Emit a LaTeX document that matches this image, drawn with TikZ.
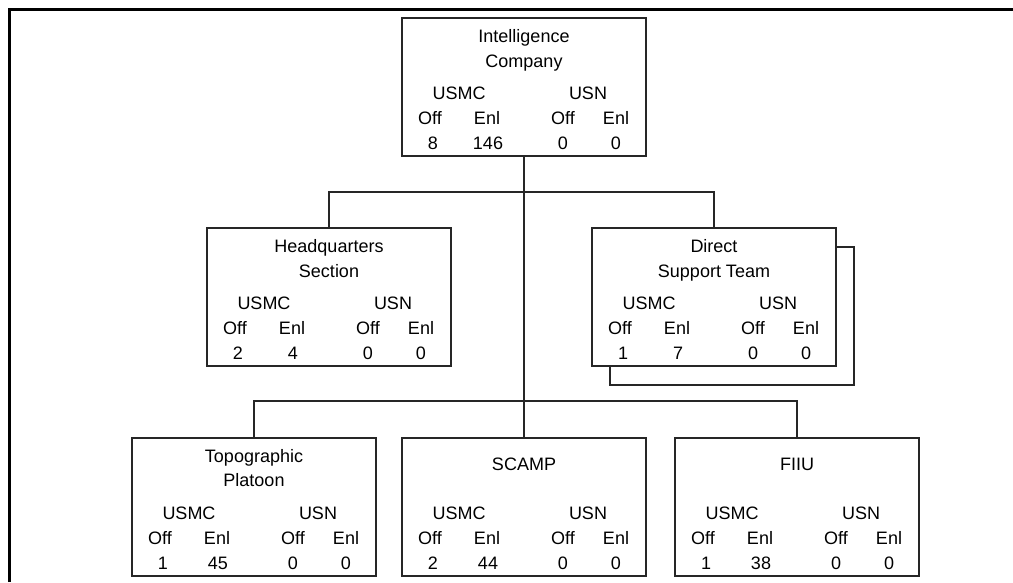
\documentclass[tikz,border=0pt]{standalone}
\usepackage{fontspec}
\setmainfont{Liberation Sans}
\tikzset{
  unitbox/.style={draw=black!85, line width=1.5pt, fill=white, minimum width=244pt, minimum height=138pt, inner sep=0pt, outer sep=0pt},
  lbl/.style={font=\fontsize{18}{21}\selectfont, inner sep=0pt, anchor=base, text=black},
  link/.style={draw=black!85, line width=1.5pt},
  outerframe/.style={line width=3pt, draw=black}
}
\newcommand\OrgUnit[7]{%
  \node[unitbox] (#1) at ({#2+122},{#3+69}) {};
  \begin{scope}[shift={(#2,#3)}]
    \node[lbl] (#1-usmc) at (57,81) {USMC};
    \node[lbl] (#1-usn) at (186,81) {USN};
    \node[lbl] (#1-off1) at (28,106) {Off};
    \node[lbl] (#1-enl1) at (85,106) {Enl};
    \node[lbl] (#1-off2) at (161,106) {Off};
    \node[lbl] (#1-enl2) at (214,106) {Enl};
    \node[lbl] (#1-n1) at (31,131) {#4};
    \node[lbl] (#1-n2) at (86,131) {#5};
    \node[lbl] (#1-n3) at (161,131) {#6};
    \node[lbl] (#1-n4) at (214,131) {#7};
  \end{scope}}
\begin{document}
\begin{tikzpicture}[x=1pt,y=-1pt]
  \useasboundingbox (0,0) rectangle (1013,582);
  \draw[outerframe] (9,582) -- (9,9) -- (1013,9);

  % top
  \OrgUnit{ic}{402}{18}{8}{146}{0}{0}
  \node[lbl] (ic-t1) at ([yshift=-24pt]ic.north) {Intelligence};
  \node[lbl] (ic-t2) at ([yshift=-49pt]ic.north) {Company};

  % second row
  \OrgUnit{hq}{207}{228}{2}{4}{0}{0}
  \node[lbl] (hq-t1) at ([yshift=-24pt]hq.north) {Headquarters};
  \node[lbl] (hq-t2) at ([yshift=-49pt]hq.north) {Section};

  \node[unitbox] (dstshadow) at (732,316) {};
  \OrgUnit{dst}{592}{228}{1}{7}{0}{0}
  \node[lbl] (dst-t1) at ([yshift=-24pt]dst.north) {Direct};
  \node[lbl] (dst-t2) at ([yshift=-49pt]dst.north) {Support Team};

  % bottom row
  \OrgUnit{topo}{132}{438}{1}{45}{0}{0}
  \node[lbl] (topo-t1) at ([yshift=-24pt]topo.north) {Topographic};
  \node[lbl] (topo-t2) at ([yshift=-48pt]topo.north) {Platoon};

  \OrgUnit{scamp}{402}{438}{2}{44}{0}{0}
  \node[lbl] (scamp-t) at ([yshift=-32pt]scamp.north) {SCAMP};

  \OrgUnit{fiiu}{675}{438}{1}{38}{0}{0}
  \node[lbl] (fiiu-t) at ([yshift=-32pt]fiiu.north) {FIIU};

  % connectors
  \coordinate (j1) at (524,192);
  \coordinate (j2) at (524,401);
  \draw[link] (hq.north) |- (j1) -| (dst.north);
  \draw[link] (ic.south) -- (scamp.north);
  \draw[link] (topo.north) |- (j2) -| (fiiu.north);
\end{tikzpicture}
\end{document}
